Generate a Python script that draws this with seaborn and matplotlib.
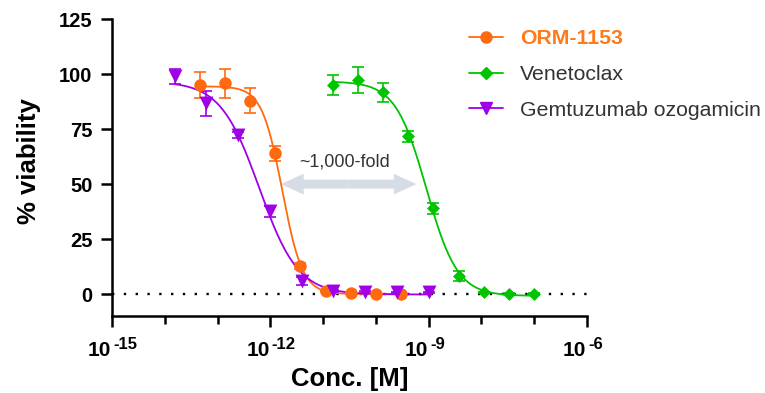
import numpy as np
import pandas as pd
import matplotlib
matplotlib.use("Agg")
import matplotlib.pyplot as plt
import seaborn as sns
from matplotlib.lines import Line2D
from matplotlib.patches import FancyArrow
from matplotlib.ticker import FixedLocator, NullFormatter

# ---------------- data ----------------
compounds = ["ORM-1153", "Venetoclax", "Gemtuzumab ozogamicin"]

orm_conc = [4.57e-14, 1.37e-13, 4.12e-13, 1.23e-12, 3.70e-12, 1.11e-11, 3.33e-11, 1.0e-10, 3.0e-10]
orm_viab = [95.0, 95.8, 88.0, 64.0, 12.7, 1.2, 0.4, 0.2, 0.1]
orm_err = [5.8, 6.5, 5.7, 3.5, 1.2, 0.5, 0.3, 0.3, 0.3]

ven_conc = [1.52e-11, 4.57e-11, 1.37e-10, 4.12e-10, 1.23e-9, 3.70e-9, 1.11e-8, 3.33e-8, 1.0e-7]
ven_viab = [95.0, 97.3, 91.7, 71.8, 39.0, 8.3, 0.8, 0.1, 0.1]
ven_err = [4.5, 6.0, 4.2, 2.5, 2.5, 2.2, 0.3, 0.3, 0.3]

gem_conc = [1.53e-14, 6.10e-14, 2.44e-13, 9.77e-13, 3.91e-12, 1.56e-11, 6.25e-11, 2.5e-10, 1.0e-9]
gem_viab = [99.0, 86.7, 72.3, 37.7, 5.9, 1.3, 0.9, 0.8, 0.8]
gem_err = [3.5, 5.5, 1.5, 2.5, 2.0, 0.5, 0.3, 0.3, 0.3]

y_ticks = [0, 25, 50, 75, 100, 125]
x_major = [1e-15, 1e-12, 1e-9, 1e-6]
x_major_exp = ["-15", "-12", "-9", "-6"]
x_minor = [1e-14, 1e-13, 1e-11, 1e-10, 1e-8, 1e-7]

fold_text = "~1,000-fold"
arrow_left, arrow_right, arrow_y = 10 ** -11.8, 10 ** -9.23, 50.0
text_x, text_y = 10 ** -10.6, 60.0

colors = {"ORM-1153": "#FF6A10", "Venetoclax": "#00C400", "Gemtuzumab ozogamicin": "#A000E6"}
markers = {"ORM-1153": "o", "Venetoclax": "D", "Gemtuzumab ozogamicin": "v"}
msize = {"ORM-1153": 9.0, "Venetoclax": 6.6, "Gemtuzumab ozogamicin": 10.0}

points = pd.concat([
    pd.DataFrame({"compound": "ORM-1153", "conc": orm_conc, "viab": orm_viab, "err": orm_err}),
    pd.DataFrame({"compound": "Venetoclax", "conc": ven_conc, "viab": ven_viab, "err": ven_err}),
    pd.DataFrame({"compound": "Gemtuzumab ozogamicin", "conc": gem_conc, "viab": gem_viab, "err": gem_err}),
], ignore_index=True)


# ---------------- 4-parameter logistic fit (numpy only) ----------------
def fit_4pl(x, y):
    lx = np.log10(np.asarray(x))
    y = np.asarray(y)
    best = None
    for lic in np.arange(lx.min(), lx.max(), 0.005):
        for h in np.arange(0.4, 6.0, 0.02):
            f = 1.0 / (1.0 + 10 ** ((lx - lic) * h))
            A = np.column_stack([1 - f, f])  # bottom, top
            coef, *_ = np.linalg.lstsq(A, y, rcond=None)
            r = np.sum((A @ coef - y) ** 2)
            if best is None or r < best[0]:
                best = (r, lic, h, coef[0], coef[1])
    return best[1:]


curves = []
for c in compounds:
    sub = points[points.compound == c]
    lic, h, bottom, top = fit_4pl(sub.conc, sub.viab)
    lxs = np.linspace(np.log10(sub.conc.min()), np.log10(sub.conc.max()), 300)
    yy = bottom + (top - bottom) / (1 + 10 ** ((lxs - lic) * h))
    curves.append(pd.DataFrame({"compound": c, "conc": 10 ** lxs, "viab": yy}))
curves = pd.concat(curves, ignore_index=True)

# ---------------- figure ----------------
sns.set_style("ticks")
plt.rcParams["font.family"] = ["Liberation Sans", "DejaVu Sans"]
plt.rcParams["text.color"] = "black"
plt.rcParams["axes.labelcolor"] = "black"
plt.rcParams["xtick.color"] = "black"
plt.rcParams["ytick.color"] = "black"

fig = plt.figure(figsize=(7.65, 3.93), dpi=100)
ax = fig.add_axes([112 / 765, 1 - 316 / 393, 475 / 765, (316 - 19.3) / 393])
ax.set_xscale("log")
ax.set_xlim(1e-15, 1e-6)
ax.set_ylim(-10, 125)

ax.axhline(0, color="black", lw=1.7, ls=(0, (1, 4.0)), zorder=1)

sns.lineplot(data=curves, x="conc", y="viab", hue="compound", palette=colors,
             hue_order=compounds, lw=1.3, legend=False, ax=ax, zorder=2)

for c in compounds:
    sub = points[points.compound == c]
    ax.errorbar(sub.conc, sub.viab, yerr=sub.err, fmt="none", ecolor=colors[c],
                elinewidth=1.2, capsize=4.5, capthick=1.2, zorder=3)
    sns.scatterplot(data=sub, x="conc", y="viab", color=colors[c], marker=markers[c],
                    s=msize[c] ** 2, linewidth=0, legend=False, ax=ax, zorder=4)


# arrow
def to_axes(x, y):
    return ax.transAxes.inverted().transform(ax.transData.transform((x, y)))


(lx0, ly0) = to_axes(arrow_left, arrow_y)
(lx1, _) = to_axes(arrow_right, arrow_y)
mid = (lx0 + lx1) / 2
for end in (lx0, lx1):
    ax.add_patch(FancyArrow(mid, ly0, end - mid, 0, width=0.030, head_width=0.070,
                            head_length=0.048, length_includes_head=True,
                            color="#D6DCE4", lw=0, transform=ax.transAxes, zorder=1.5))
ax.text(text_x, text_y, fold_text, ha="center", va="center", fontsize=13, color="#333333")

# axes styling
for s in ["top", "right"]:
    ax.spines[s].set_visible(False)
for s in ["left", "bottom"]:
    ax.spines[s].set_linewidth(1.8)
    ax.spines[s].set_color("black")

ax.yaxis.set_major_locator(FixedLocator(y_ticks))
ax.xaxis.set_major_locator(FixedLocator(x_major))
ax.xaxis.set_minor_locator(FixedLocator(x_minor))
ax.xaxis.set_minor_formatter(NullFormatter())
ax.xaxis.set_major_formatter(NullFormatter())
ax.tick_params(axis="y", which="major", direction="out", length=8, width=1.8,
               labelsize=14.5, color="black", labelcolor="black", pad=6, left=True)
ax.tick_params(axis="x", which="major", direction="out", length=8, width=1.8,
               color="black", bottom=True)
ax.tick_params(axis="x", which="minor", direction="out", length=5.5, width=1.8,
               color="black", bottom=True)
for lab in ax.get_yticklabels():
    lab.set_fontweight("bold")

# x tick labels: "10" with a superscript exponent
for v, e in zip(x_major, x_major_exp):
    ax.annotate("10", xy=(v, 0), xycoords=("data", "axes fraction"),
                xytext=(-0.5, -18), textcoords="offset points", ha="right", va="top",
                fontsize=15, fontweight="bold", color="black", annotation_clip=False)
    ax.annotate(e, xy=(v, 0), xycoords=("data", "axes fraction"),
                xytext=(1, -15), textcoords="offset points", ha="left", va="top",
                fontsize=12, fontweight="bold", color="black", annotation_clip=False)

ax.set_xlabel("Conc. [M]", fontsize=18.5, fontweight="bold", color="black")
ax.xaxis.set_label_coords(0.5, (316 - 379) / 296.7)
ax.xaxis.label.set_va("center")
ax.set_ylabel("% viability", fontsize=18.5, fontweight="bold", color="black")
ax.yaxis.set_label_coords((29 - 112) / 475, (316 - 161) / 296.7)
ax.yaxis.label.set_va("center")

# legend
handles = [Line2D([], [], color=colors[c], marker=markers[c], lw=1.3,
                  markersize={"ORM-1153": 8, "Venetoclax": 6, "Gemtuzumab ozogamicin": 9}[c])
           for c in compounds]
leg = fig.legend(handles, compounds, loc="upper left", bbox_to_anchor=(469 / 765, 1 - 29.5 / 393),
                 frameon=False, fontsize=15.3, handlelength=1.6, handletextpad=0.8,
                 labelspacing=0.78, borderpad=0, borderaxespad=0)
for t, c in zip(leg.get_texts(), compounds):
    if c == "ORM-1153":
        t.set_color("#FF7A1A")
        t.set_fontweight("bold")
    else:
        t.set_color("#333333")

fig.savefig("out.png", dpi=100)
